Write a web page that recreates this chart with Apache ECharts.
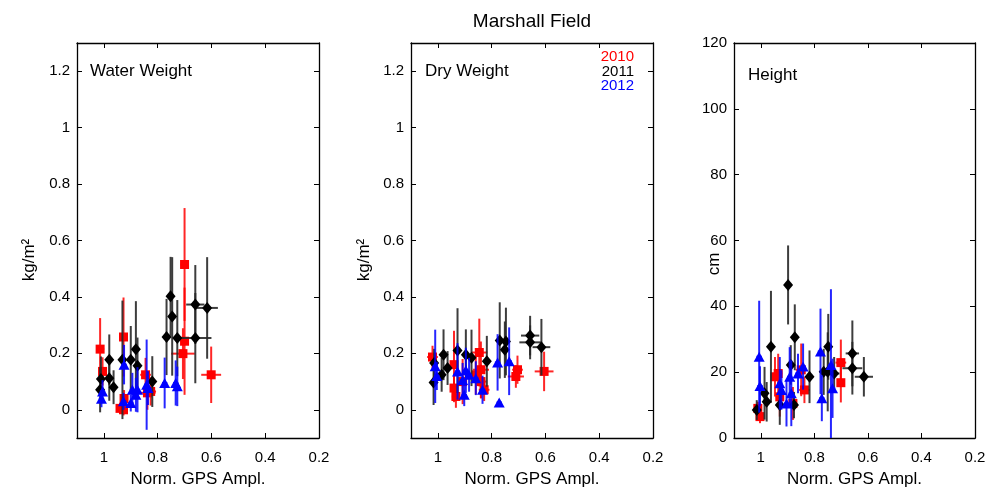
<!DOCTYPE html>
<html><head><meta charset="utf-8">
<script src="https://cdn.jsdelivr.net/npm/echarts@6/dist/echarts.min.js"></script>
<style>html,body{margin:0;padding:0;background:#fff}#c{width:988px;height:490px}</style>
</head><body><div id="c"></div>
<script>
// ---- data: [x, y, xErr, yErr] ----
var water2010 = [
  [1.014,0.215,0.015,0.11],[1.005,0.136,0.01,0.05],[0.927,0.258,0.015,0.14],
  [0.940,0.005,0.01,0.02],[0.927,0.000,0.01,0.02],[0.925,0.040,0.01,0.03],
  [0.845,0.124,0.02,0.06],[0.838,0.060,0.03,0.06],[0.826,0.065,0.02,0.05],
  [0.700,0.515,0.015,0.20],[0.700,0.243,0.015,0.19],[0.706,0.199,0.044,0.09],
  [0.601,0.124,0.037,0.10]
];
var water2011 = [
  [1.011,0.109,0.01,0.08],[1.014,0.071,0.01,0.08],[0.980,0.177,0.01,0.09],
  [0.980,0.112,0.01,0.08],[0.964,0.080,0.01,0.06],[0.931,0.177,0.01,0.21],
  [0.900,0.177,0.01,0.12],[0.881,0.215,0.01,0.17],[0.875,0.156,0.01,0.10],
  [0.820,0.100,0.01,0.09],[0.767,0.258,0.01,0.135],[0.752,0.402,0.01,0.14],
  [0.746,0.331,0.01,0.21],[0.727,0.254,0.01,0.135],[0.660,0.373,0.034,0.14],
  [0.660,0.254,0.06,0.16],[0.616,0.361,0.04,0.18]
];
var water2012 = [
  [1.005,0.065,0.01,0.04],[1.009,0.039,0.01,0.03],[0.925,0.160,0.01,0.07],
  [0.927,0.030,0.01,0.03],[0.900,0.024,0.01,0.03],[0.894,0.071,0.01,0.06],
  [0.875,0.071,0.01,0.08],[0.881,0.053,0.01,0.06],[0.841,0.089,0.01,0.16],
  [0.836,0.077,0.01,0.06],[0.774,0.095,0.01,0.09],[0.733,0.095,0.01,0.08],
  [0.727,0.083,0.01,0.07]
];
var dry2010 = [
  [1.020,0.187,0.02,0.04],[0.940,0.160,0.015,0.12],[0.940,0.077,0.015,0.05],
  [0.933,0.047,0.015,0.04],[0.908,0.100,0.015,0.08],[0.846,0.203,0.03,0.12],
  [0.840,0.142,0.03,0.10],[0.840,0.100,0.02,0.06],[0.828,0.071,0.02,0.04],
  [0.859,0.124,0.02,0.07],[0.704,0.142,0.02,0.05],[0.710,0.118,0.03,0.04],
  [0.605,0.136,0.035,0.07]
];
var dry2011 = [
  [1.016,0.097,0.01,0.08],[1.014,0.166,0.01,0.05],[0.979,0.195,0.01,0.09],
  [0.986,0.124,0.01,0.06],[0.964,0.148,0.01,0.06],[0.927,0.210,0.01,0.15],
  [0.896,0.195,0.01,0.09],[0.875,0.184,0.01,0.10],[0.818,0.172,0.01,0.09],
  [0.770,0.246,0.01,0.135],[0.751,0.213,0.01,0.10],[0.747,0.242,0.01,0.12],
  [0.657,0.263,0.034,0.07],[0.657,0.239,0.04,0.06],[0.615,0.222,0.033,0.10]
];
var dry2012 = [
  [1.010,0.154,0.01,0.13],[1.004,0.120,0.01,0.05],[0.927,0.136,0.01,0.10],
  [0.908,0.106,0.01,0.06],[0.902,0.053,0.01,0.04],[0.896,0.140,0.01,0.08],
  [0.884,0.124,0.01,0.06],[0.859,0.112,0.01,0.06],[0.834,0.071,0.01,0.05],
  [0.778,0.168,0.01,0.10],[0.735,0.172,0.01,0.12],[0.772,0.026,0.01,0.01]
];
var height2010 = [
  [1.011,9.0,0.01,2],[1.003,6.5,0.01,2],[0.947,18.6,0.015,6],
  [0.935,19.6,0.015,6],[0.929,12.5,0.015,6],[0.880,10.5,0.015,5],
  [0.849,20.7,0.02,8],[0.837,14.6,0.02,4],[0.701,22.9,0.02,7],
  [0.701,16.8,0.01,6]
];
var height2011 = [
  [1.015,8.5,0.01,3],[0.986,13.6,0.01,8],[0.978,11.0,0.01,6],
  [0.962,27.7,0.01,17],[0.929,10.0,0.01,6],[0.898,46.5,0.01,12],
  [0.888,22.2,0.01,6],[0.873,30.6,0.01,10],[0.876,10.0,0.01,4],
  [0.818,18.6,0.01,8],[0.765,20.1,0.015,7],[0.750,20.1,0.015,12],
  [0.748,27.7,0.01,10],[0.726,19.6,0.02,5],[0.658,25.7,0.025,10],
  [0.658,21.2,0.037,8],[0.615,18.6,0.034,6]
];
var height2012 = [
  [1.006,24.7,0.01,17],[1.003,15.8,0.01,6],[0.929,16.6,0.01,8],
  [0.923,14.6,0.01,6],[0.904,10.5,0.01,7],[0.892,18.6,0.01,9],
  [0.886,13.6,0.01,10],[0.861,19.6,0.01,6],[0.842,21.7,0.01,7],
  [0.777,26.3,0.01,13],[0.772,12.1,0.01,7],[0.738,22.2,0.01,23],
  [0.732,15.1,0.01,9]
];
var xTicks = [0.2, 0.4, 0.6, 0.8, 1];
var kgTicks = [0, 0.2, 0.4, 0.6, 0.8, 1, 1.2];
var cmTicks = [0, 20, 40, 60, 80, 100, 120];
var years = ['2010', '2011', '2012'];
var panelNames = ['Water Weight', 'Dry Weight', 'Height'];
var yNames = ['kg/m²', 'kg/m²', 'cm'];

// ---- chart ----
var FONT = 'Liberation Sans, Arial, sans-serif';
var markColors = ['#ff0000', '#000000', '#0000ff'];
var barColors = ['rgba(255,0,0,0.85)', 'rgba(40,40,40,0.9)', 'rgba(0,0,255,0.85)'];
var symbols = ['rect', 'diamond', 'triangle'];
var symSizes = [[9, 9], [10, 12], [11, 10]];

var grids = [
  {left: 77, width: 242, top: 43, height: 395, outerBoundsMode: 'none', containLabel: false},
  {left: 411, width: 242, top: 43, height: 395, outerBoundsMode: 'none', containLabel: false},
  {left: 734, width: 241, top: 43, height: 395, outerBoundsMode: 'none', containLabel: false}
];
var panels = [
  {data: [water2010, water2011, water2012], ymin: -0.1, ymax: 1.3, ticks: kgTicks},
  {data: [dry2010, dry2011, dry2012], ymin: -0.1, ymax: 1.3, ticks: kgTicks},
  {data: [height2010, height2011, height2012], ymin: 0, ymax: 120, ticks: cmTicks}
];
var yNamePos = [[29, 260], [364, 260], [714, 264]];

var xAxes = [], yAxes = [], series = [];
var axisLineStyle = {color: '#000', width: 1.3};
panels.forEach(function (p, i) {
  xAxes.push({
    gridIndex: i, type: 'value', inverse: true, min: 0.2, max: 1.1, position: 'bottom',
    axisLine: {show: true, onZero: false, lineStyle: axisLineStyle},
    axisTick: {show: true, inside: true, length: 5, customValues: xTicks, lineStyle: {color: '#000'}},
    axisLabel: {show: true, customValues: xTicks, color: '#000', fontSize: 15, fontFamily: FONT, margin: 12},
    splitLine: {show: false},
    name: 'Norm. GPS Ampl.', nameLocation: 'middle', nameGap: 33, nameMoveOverlap: false,
    nameTextStyle: {color: '#000', fontSize: 17, fontFamily: FONT}
  });
  xAxes.push({
    gridIndex: i, type: 'value', inverse: true, min: 0.2, max: 1.1, position: 'top',
    axisLine: {show: true, onZero: false, lineStyle: axisLineStyle},
    axisTick: {show: true, inside: true, length: 5, customValues: xTicks, lineStyle: {color: '#000'}},
    axisLabel: {show: false}, splitLine: {show: false}
  });
  yAxes.push({
    gridIndex: i, type: 'value', min: p.ymin, max: p.ymax, position: 'left',
    axisLine: {show: true, onZero: false, lineStyle: axisLineStyle},
    axisTick: {show: true, inside: true, length: 5, customValues: p.ticks, lineStyle: {color: '#000'}},
    axisLabel: {show: true, customValues: p.ticks, color: '#000', fontSize: 15, fontFamily: FONT, margin: 7},
    splitLine: {show: false}
  });
  yAxes.push({
    gridIndex: i, type: 'value', min: p.ymin, max: p.ymax, position: 'right',
    axisLine: {show: true, onZero: false, lineStyle: axisLineStyle},
    axisTick: {show: true, inside: true, length: 5, customValues: p.ticks, lineStyle: {color: '#000'}},
    axisLabel: {show: false}, splitLine: {show: false}
  });
  p.data.forEach(function (rows, k) {
    series.push({
      type: 'custom', xAxisIndex: 2 * i, yAxisIndex: 2 * i, clip: true, silent: true,
      encode: {x: 0, y: 1}, data: rows, z: 2 + k * 2,
      renderItem: (function (col) {
        return function (params, api) {
          var x = api.value(0), y = api.value(1), xe = api.value(2), ye = api.value(3);
          var a = api.coord([x - xe, y]), b = api.coord([x + xe, y]);
          var c = api.coord([x, y - ye]), d = api.coord([x, y + ye]);
          var st = {stroke: col, lineWidth: 2};
          return {type: 'group', children: [
            {type: 'line', shape: {x1: a[0], y1: a[1], x2: b[0], y2: b[1]}, style: st},
            {type: 'line', shape: {x1: c[0], y1: c[1], x2: d[0], y2: d[1]}, style: st}
          ]};
        };
      })(barColors[k])
    });
    series.push({
      type: 'scatter', xAxisIndex: 2 * i, yAxisIndex: 2 * i, silent: true,
      encode: {x: 0, y: 1}, data: rows, z: 3 + k * 2,
      symbol: symbols[k], symbolSize: symSizes[k],
      itemStyle: {color: markColors[k], opacity: 1}
    });
  });
});

var graphics = [
  {type: 'text', left: 90, top: 63, style: {text: panelNames[0], fontSize: 17, fontFamily: FONT, fill: '#000'}},
  {type: 'text', left: 425, top: 63, style: {text: panelNames[1], fontSize: 17, fontFamily: FONT, fill: '#000'}},
  {type: 'text', left: 748, top: 67, style: {text: panelNames[2], fontSize: 17, fontFamily: FONT, fill: '#000'}}
];
yNames.forEach(function (nm, i) {
  graphics.push({type: 'text', x: yNamePos[i][0], y: yNamePos[i][1], rotation: Math.PI / 2,
    style: {text: nm, fontSize: 17, fontFamily: FONT, fill: '#000', align: 'center', verticalAlign: 'middle'}});
});
years.forEach(function (yr, k) {
  graphics.push({type: 'text', x: 634, y: 57 + k * 14.5,
    style: {text: yr, fontSize: 15, fontFamily: FONT, fill: markColors[k], align: 'right', verticalAlign: 'middle'}});
});

var chart = echarts.init(document.getElementById('c'), null, {renderer: 'canvas'});
chart.setOption({
  backgroundColor: '#fff',
  animation: false,
  title: {text: 'Marshall Field', left: 527, top: 7, textAlign: 'center',
    textStyle: {fontSize: 19, fontWeight: 'normal', color: '#000', fontFamily: FONT}},
  grid: grids,
  xAxis: xAxes,
  yAxis: yAxes,
  series: series,
  graphic: graphics
});
</script>
</body></html>
